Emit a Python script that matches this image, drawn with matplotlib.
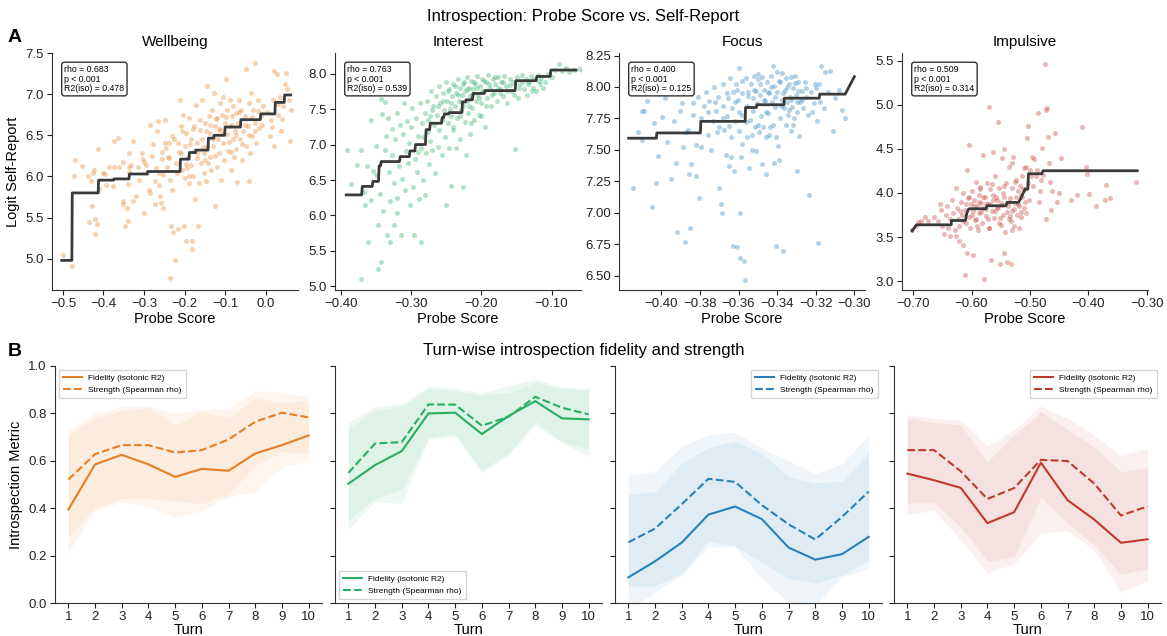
import matplotlib
matplotlib.use("Agg")
import matplotlib.pyplot as plt
import numpy as np

plt.rcParams['font.family'] = ['Liberation Sans', 'DejaVu Sans']

# ---- panel A: probe score vs. logit self-report ----
well_x = [-0.50, -0.478, -0.471, -0.473, -0.452, -0.438, -0.430, -0.426, -0.424, -0.414, -0.436, -0.422, -0.416,
          -0.422, -0.428, -0.410, -0.401, -0.395, -0.393, -0.387, -0.377, -0.373, -0.373, -0.365, -0.361, -0.352,
          -0.351, -0.351, -0.346, -0.342, -0.340, -0.338, -0.336, -0.336, -0.332, -0.328, -0.326, -0.340, -0.320,
          -0.316, -0.312, -0.305, -0.302, -0.300, -0.296, -0.292, -0.288, -0.286, -0.284, -0.280, -0.278, -0.274,
          -0.272, -0.268, -0.266, -0.264, -0.262, -0.260, -0.258, -0.256, -0.252, -0.252, -0.248, -0.248, -0.244,
          -0.240, -0.239, -0.236, -0.234, -0.232, -0.231, -0.228, -0.224, -0.235, -0.220, -0.218, -0.216, -0.216,
          -0.212, -0.209, -0.208, -0.205, -0.204, -0.201, -0.200, -0.198, -0.196, -0.196, -0.193, -0.192, -0.190,
          -0.188, -0.185, -0.184, -0.182, -0.181, -0.180, -0.177, -0.176, -0.174, -0.172, -0.169, -0.168, -0.166,
          -0.164, -0.161, -0.160, -0.158, -0.156, -0.153, -0.152, -0.149, -0.148, -0.145, -0.144, -0.142, -0.140,
          -0.137, -0.136, -0.134, -0.132, -0.129, -0.128, -0.126, -0.124, -0.121, -0.120, -0.118, -0.116, -0.113,
          -0.112, -0.110, -0.108, -0.105, -0.104, -0.102, -0.100, -0.097, -0.096, -0.094, -0.092, -0.089, -0.088,
          -0.086, -0.084, -0.081, -0.080, -0.078, -0.076, -0.073, -0.072, -0.070, -0.068, -0.065, -0.064, -0.060,
          -0.057, -0.056, -0.052, -0.049, -0.048, -0.044, -0.041, -0.040, -0.038, -0.036, -0.033, -0.030, -0.027,
          -0.025, -0.023, -0.019, -0.015, -0.011, -0.007, 0.010, 0.014, 0.018, 0.022, 0.022, 0.027, 0.031, 0.035,
          0.039, 0.043, 0.047, 0.051, 0.054, 0.057, 0.060, 0.062,
          -0.245, -0.238, -0.226, -0.214, -0.206, -0.197, -0.186, -0.178, -0.170, -0.162, -0.154, -0.146, -0.138,
          -0.130, -0.122, -0.114, -0.106, -0.098, -0.090, -0.082, -0.074, -0.066, -0.058, -0.050, -0.042, -0.034,
          -0.026, -0.018, -0.010, 0.004, 0.016, 0.030, -0.300, -0.270, -0.255, -0.190, -0.150, -0.125, -0.085, 0.040]
well_y = [5.05, 4.91, 6.20, 6.00, 6.13, 6.00, 5.94, 6.04, 6.08, 6.33, 5.45, 5.48, 5.42, 5.30, 5.64, 5.85, 6.04, 6.03,
          5.90, 6.12, 5.88, 6.12, 6.43, 6.47, 6.12, 5.70, 6.18, 5.66, 5.40, 5.62, 5.91, 6.06, 6.12, 6.29, 6.14, 6.43,
          5.70, 5.46, 5.76, 6.12, 5.96, 6.28, 6.21, 5.56, 6.14, 6.04, 5.84, 6.63, 5.80, 6.25, 6.39, 5.66, 5.94, 6.55,
          6.67, 6.04, 5.90, 5.76, 5.68, 6.21, 6.02, 5.62, 6.41, 6.69, 6.12, 6.24, 6.41, 5.96, 5.40, 5.84, 6.49, 5.32,
          4.99, 4.76, 6.16, 6.04, 6.41, 5.36, 6.93, 6.61, 6.29, 6.08, 6.75, 5.40, 5.98, 6.37, 6.53, 5.21, 6.10, 6.24,
          5.92, 6.71, 6.45, 6.14, 5.21, 5.12, 6.00, 6.61, 6.31, 5.72, 6.87, 6.41, 6.22, 5.40, 5.92, 6.57, 6.16, 6.93,
          6.45, 6.04, 6.29, 6.65, 5.94, 6.37, 7.10, 6.16, 6.73, 6.53, 6.24, 6.08, 6.81, 6.37, 7.01, 6.61, 5.64, 6.12,
          6.71, 6.45, 6.29, 6.89, 6.57, 5.96, 6.75, 6.41, 6.97, 6.20, 6.65, 7.18, 6.51, 6.81, 6.31, 6.61, 6.93, 6.08,
          6.73, 6.45, 6.85, 6.24, 6.55, 6.77, 6.33, 5.93, 6.65, 6.93, 6.45, 6.81, 6.20, 6.55, 6.73, 7.30, 6.37, 6.61,
          6.89, 5.94, 6.29, 7.01, 6.49, 6.81, 7.38, 6.65, 6.41, 6.93, 6.59, 6.73, 6.85, 6.49, 6.69, 6.93, 6.37, 7.28,
          7.24, 6.75, 6.97, 6.55, 6.85, 7.12, 7.26, 7.06, 6.93, 6.43, 6.81,
          6.35, 6.22, 6.46, 6.30, 6.55, 6.15, 6.40, 6.58, 6.28, 6.68, 6.36, 6.55, 6.62, 6.45, 6.70, 6.58, 6.52, 6.72,
          6.42, 6.62, 6.50, 6.78, 6.40, 6.62, 6.50, 6.72, 6.55, 6.80, 6.62, 6.78, 6.60, 6.88, 6.18, 6.10, 6.30, 6.00,
          6.20, 6.25, 6.30, 6.70]

int_x = [-0.392, -0.386, -0.377, -0.372, -0.372, -0.368, -0.366, -0.363, -0.362, -0.357, -0.355, -0.358, -0.350,
         -0.350, -0.348, -0.347, -0.345, -0.344, -0.343, -0.342, -0.340, -0.338, -0.337, -0.336, -0.335, -0.334,
         -0.332, -0.330, -0.330, -0.328, -0.327, -0.325, -0.325, -0.323, -0.321, -0.320, -0.320, -0.318, -0.316,
         -0.315, -0.313, -0.312, -0.310, -0.309, -0.307, -0.306, -0.305, -0.303, -0.302, -0.300, -0.299, -0.298,
         -0.296, -0.295, -0.294, -0.292, -0.290, -0.289, -0.288, -0.287, -0.286, -0.285, -0.283, -0.281, -0.280,
         -0.279, -0.278, -0.277, -0.275, -0.274, -0.273, -0.272, -0.270, -0.269, -0.268, -0.266, -0.265, -0.264,
         -0.262, -0.261, -0.260, -0.259, -0.257, -0.256, -0.255, -0.254, -0.252, -0.251, -0.250, -0.249, -0.248,
         -0.247, -0.246, -0.245, -0.244, -0.243, -0.242, -0.241, -0.240, -0.238, -0.237, -0.236, -0.235, -0.233,
         -0.232, -0.231, -0.230, -0.229, -0.228, -0.227, -0.226, -0.225, -0.224, -0.223, -0.222, -0.221, -0.220,
         -0.219, -0.218, -0.217, -0.216, -0.215, -0.213, -0.212, -0.210, -0.209, -0.208, -0.206, -0.205, -0.204,
         -0.202, -0.200, -0.199, -0.197, -0.195, -0.194, -0.192, -0.190, -0.188, -0.186, -0.184, -0.182, -0.180,
         -0.178, -0.176, -0.174, -0.172, -0.170, -0.168, -0.165, -0.163, -0.160, -0.157, -0.155, -0.152, -0.150,
         -0.148, -0.145, -0.142, -0.140, -0.137, -0.135, -0.132, -0.130, -0.127, -0.125, -0.122, -0.120, -0.117,
         -0.115, -0.110, -0.105, -0.100, -0.095, -0.090, -0.085, -0.080, -0.075, -0.068, -0.060, -0.055,
         -0.262, -0.255, -0.248, -0.243, -0.238, -0.234, -0.229, -0.226, -0.221, -0.218, -0.214, -0.211, -0.207,
         -0.203, -0.199, -0.196, -0.193, -0.189, -0.185, -0.181, -0.177, -0.173, -0.169, -0.164, -0.159, -0.154,
         -0.147, -0.141, -0.134, -0.128, -0.118, -0.112, -0.270, -0.276, -0.284, -0.290, -0.241, -0.230, -0.215, -0.200]
int_y = [6.92, 6.44, 6.71, 6.93, 5.10, 6.33, 6.15, 6.70, 5.62, 6.22, 6.63, 7.35, 6.98, 6.57, 5.24, 5.87, 6.30, 5.34,
         7.64, 7.43, 6.07, 7.60, 6.92, 7.12, 5.72, 7.38, 6.62, 6.20, 5.62, 7.22, 6.85, 5.86, 6.46, 7.08, 6.03, 7.45,
         6.24, 6.70, 7.27, 5.72, 6.52, 7.15, 7.59, 6.36, 6.91, 7.33, 6.74, 7.02, 6.15, 7.25, 7.52, 6.40, 5.72, 6.80,
         7.38, 6.62, 7.12, 6.23, 7.58, 5.63, 6.95, 7.30, 6.50, 7.45, 6.29, 6.88, 7.62, 7.18, 6.72, 7.40, 7.05, 7.75,
         6.93, 7.55, 7.28, 6.60, 7.68, 7.42, 6.97, 7.82, 7.20, 7.58, 6.85, 7.35, 7.72, 7.48, 7.10, 6.15, 7.88, 7.62,
         7.30, 6.95, 7.78, 7.50, 6.42, 7.40, 7.68, 7.20, 7.85, 7.55, 6.95, 7.72, 7.38, 7.92, 7.62, 7.08, 7.80, 7.48,
         7.70, 6.40, 7.55, 7.88, 7.32, 7.75, 6.85, 7.62, 7.95, 7.45, 7.80, 7.15, 7.68, 7.90, 7.52, 7.78, 7.35, 7.85,
         7.62, 7.96, 7.70, 7.42, 7.82, 7.58, 7.92, 7.75, 7.25, 7.88, 7.66, 7.98, 7.80, 7.55, 7.92, 7.72, 7.85, 7.62,
         7.95, 7.78, 7.88, 7.68, 7.96, 7.82, 7.58, 7.92, 7.75, 7.88, 6.94, 7.95, 7.65, 7.85, 7.98, 7.78, 7.92, 7.70,
         7.88, 7.96, 7.80, 7.92, 7.75, 7.98, 7.85, 7.94, 7.88, 8.00, 7.95, 8.05, 8.13, 8.04, 8.08, 8.02, 8.05, 8.06,
         8.04,
         7.55, 7.62, 7.75, 7.58, 7.82, 7.70, 7.60, 7.85, 7.78, 7.55, 7.70, 7.88, 7.80, 7.65, 7.75, 7.90, 7.55, 7.85,
         7.70, 7.95, 7.80, 7.72, 7.88, 7.76, 7.84, 7.70, 7.80, 7.90, 7.85, 7.75, 7.90, 7.80, 7.48, 7.35, 7.10, 6.90,
         7.25, 7.40, 7.30, 7.40]

foc_x = [-0.4146, -0.412, -0.4103, -0.409, -0.4074, -0.410, -0.4048, -0.404, -0.4026, -0.402, -0.3995, -0.398,
         -0.397, -0.3949, -0.3937, -0.3923, -0.392, -0.3906, -0.3892, -0.3888, -0.388, -0.3871, -0.3863, -0.3858,
         -0.385, -0.3846, -0.3837, -0.3834, -0.3823, -0.3820, -0.3811, -0.3803, -0.3794, -0.3794, -0.3777, -0.3768,
         -0.376, -0.3751, -0.3743, -0.3734, -0.3726, -0.3717, -0.3714, -0.3708, -0.3703, -0.3691, -0.3686, -0.3683,
         -0.3679, -0.3674, -0.3666, -0.3662, -0.3657, -0.3652, -0.3648, -0.3645, -0.364, -0.3635, -0.3631, -0.3628,
         -0.3623, -0.3619, -0.3614, -0.3611, -0.3605, -0.360, -0.3597, -0.3593, -0.3593, -0.3588, -0.3583, -0.3580,
         -0.3571, -0.3566, -0.3563, -0.3559, -0.3554, -0.3549, -0.3545, -0.3542, -0.3537, -0.3532, -0.3528, -0.3525,
         -0.352, -0.3515, -0.3511, -0.3508, -0.3503, -0.3497, -0.3494, -0.3491, -0.3485, -0.3480, -0.3477, -0.3473,
         -0.3468, -0.3463, -0.3460, -0.3456, -0.3451, -0.3446, -0.3443, -0.3437, -0.3434, -0.3429, -0.3422, -0.3417,
         -0.3417, -0.3412, -0.3408, -0.3405, -0.340, -0.3395, -0.3391, -0.3388, -0.3383, -0.3377, -0.3374, -0.3370,
         -0.3365, -0.336, -0.3357, -0.3352, -0.3348, -0.3343, -0.334, -0.3334, -0.3331, -0.3326, -0.3322, -0.3317,
         -0.3314, -0.3309, -0.3305, -0.330, -0.3297, -0.3292, -0.3288, -0.3283, -0.3274, -0.3266, -0.3257, -0.3250,
         -0.324, -0.3233, -0.3223, -0.3211, -0.3202, -0.3199, -0.3194, -0.3189, -0.3182, -0.3172, -0.316, -0.3151,
         -0.3137, -0.3125, -0.3113, -0.310, -0.3079, -0.3065, -0.3051,
         -0.366, -0.362, -0.358, -0.355, -0.352, -0.349, -0.347, -0.345, -0.343, -0.341, -0.339, -0.337, -0.335,
         -0.333, -0.331, -0.329, -0.327, -0.325, -0.360, -0.356, -0.353, -0.350, -0.346, -0.342, -0.338, -0.334,
         -0.330, -0.368, -0.372, -0.376, -0.364, -0.358, -0.344, -0.332, -0.322, -0.318, -0.340, -0.350, -0.361, -0.370]
foc_y = [7.20, 7.64, 7.81, 7.81, 7.89, 7.58, 7.05, 7.71, 7.24, 7.45, 7.76, 7.91, 7.56, 7.27, 7.73, 7.40, 6.85, 7.81,
         7.87, 7.52, 6.77, 7.64, 7.66, 7.31, 6.88, 7.39, 7.78, 7.87, 7.54, 7.29, 7.92, 7.12, 7.75, 7.52, 7.85, 7.96,
         7.62, 7.89, 7.50, 7.73, 8.00, 7.81, 7.64, 7.92, 7.20, 7.07, 7.00, 7.85, 8.02, 7.66, 7.46, 7.77, 7.91, 7.37,
         7.69, 8.07, 7.44, 7.83, 7.96, 6.74, 7.33, 7.73, 8.02, 6.73, 7.90, 7.65, 8.15, 7.00, 6.64, 7.44, 7.78, 7.95,
         6.62, 6.47, 8.07, 7.85, 7.60, 7.96, 7.36, 7.74, 8.02, 7.50, 7.91, 7.81, 8.09, 7.68, 7.97, 7.49, 7.87, 8.06,
         7.64, 7.94, 7.77, 8.08, 7.39, 7.68, 7.98, 7.89, 7.31, 7.60, 8.04, 7.79, 7.95, 7.68, 8.09, 7.88, 8.17, 7.40,
         8.01, 7.84, 7.60, 6.74, 7.96, 7.53, 7.42, 8.04, 7.75, 7.90, 8.11, 6.70, 7.83, 7.98, 7.70, 8.07, 7.88, 7.78,
         8.02, 7.92, 7.65, 8.08, 7.84, 7.99, 7.75, 8.09, 7.94, 7.33, 7.80, 8.04, 7.61, 7.88, 7.97, 7.83, 8.04, 7.92,
         7.78, 7.14, 7.96, 7.87, 8.02, 7.99, 7.73, 6.76, 8.02, 8.17, 7.83, 8.12, 7.96, 8.13, 7.65, 7.91, 7.98, 7.82,
         7.75,
         7.95, 7.88, 8.05, 7.93, 7.98, 8.02, 7.90, 7.96, 8.00, 7.92, 8.05, 7.95, 8.00, 7.90, 8.03, 7.97, 7.90, 7.99,
         7.80, 7.72, 7.62, 7.70, 7.80, 7.70, 7.85, 7.82, 7.88, 7.75, 7.88, 7.80, 7.60, 7.55, 7.62, 7.70, 7.80, 7.88,
         8.12, 8.10, 7.98, 7.68]

imp_x = [-0.7017, -0.6955, -0.6915, -0.686, -0.680, -0.6745, -0.665, -0.6575, -0.6546, -0.652, -0.650, -0.6478,
         -0.6444, -0.642, -0.6404, -0.6376, -0.6364, -0.633, -0.632, -0.629, -0.6274, -0.6262, -0.625, -0.6234,
         -0.6217, -0.6206, -0.6177, -0.616, -0.6149, -0.6138, -0.612, -0.6104, -0.609, -0.6081, -0.607, -0.6064,
         -0.6047, -0.6035, -0.6024, -0.6007, -0.599, -0.5979, -0.5967, -0.595, -0.5933, -0.5922, -0.591, -0.5894,
         -0.5877, -0.5865, -0.5854, -0.5837, -0.582, -0.5809, -0.5797, -0.578, -0.5763, -0.575, -0.574, -0.5723,
         -0.5706, -0.5695, -0.5684, -0.5667, -0.565, -0.5638, -0.5627, -0.561, -0.5593, -0.5582, -0.557, -0.5553,
         -0.5536, -0.5525, -0.5513, -0.5496, -0.548, -0.5468, -0.5457, -0.544, -0.544, -0.5423, -0.5411, -0.540,
         -0.5383, -0.5366, -0.5355, -0.5343, -0.5326, -0.531, -0.530, -0.5287, -0.527, -0.5253, -0.5241, -0.523,
         -0.5213, -0.5196, -0.5184, -0.5173, -0.5156, -0.5139, -0.5128, -0.511, -0.5099, -0.5082, -0.507, -0.506,
         -0.5043, -0.5037, -0.5026, -0.5014, -0.5003, -0.4986, -0.4957, -0.4946, -0.4929, -0.490, -0.4872, -0.4855,
         -0.4844, -0.4833, -0.4816, -0.4799, -0.477, -0.4742, -0.473, -0.4719, -0.4702, -0.4685, -0.4674, -0.4657,
         -0.4645, -0.4617, -0.457, -0.4532, -0.4504, -0.4475, -0.4305, -0.4191, -0.4106, -0.4038, -0.402, -0.3993,
         -0.3868, -0.372, -0.3698, -0.3624, -0.3181, -0.530,
         -0.600, -0.596, -0.592, -0.588, -0.584, -0.580, -0.576, -0.572, -0.568, -0.564, -0.560, -0.556, -0.552,
         -0.548, -0.544, -0.540, -0.536, -0.532, -0.528, -0.524, -0.520, -0.516, -0.512, -0.508, -0.590, -0.570,
         -0.550, -0.530, -0.610, -0.620, -0.615, -0.605, -0.585, -0.565, -0.545, -0.525, -0.515, -0.535, -0.555, -0.575]
imp_y = [3.58, 3.62, 3.67, 3.68, 3.73, 3.68, 3.73, 3.68, 3.87, 3.81, 3.62, 3.54, 3.75, 3.85, 3.60, 3.51, 3.70, 3.92,
         3.77, 3.58, 3.51, 4.06, 3.83, 3.71, 3.62, 3.45, 3.90, 3.75, 3.41, 4.00, 3.07, 3.81, 3.66, 4.26, 3.32, 3.94,
         3.73, 4.54, 3.60, 3.87, 4.02, 3.79, 3.30, 3.92, 3.69, 4.13, 3.85, 3.58, 3.98, 3.77, 4.07, 3.89, 3.66, 4.43,
         3.83, 3.02, 3.96, 3.74, 4.11, 3.87, 4.98, 3.60, 4.04, 3.24, 3.79, 4.46, 3.92, 3.72, 4.19, 3.96, 3.83, 4.80,
         3.66, 4.06, 3.20, 3.89, 4.40, 3.75, 4.00, 3.32, 4.50, 3.56, 4.11, 3.22, 3.85, 4.30, 3.70, 3.94, 3.19, 4.06,
         3.79, 4.41, 3.62, 3.89, 4.15, 3.75, 4.02, 3.60, 3.85, 4.08, 3.73, 3.96, 4.19, 3.83, 4.28, 4.04, 3.77, 4.30,
         4.62, 4.76, 4.11, 3.92, 4.26, 4.19, 4.41, 4.08, 4.39, 4.19, 4.26, 4.91, 3.90, 4.02, 4.15, 4.51, 4.20, 5.46,
         4.94, 3.71, 4.96, 4.64, 4.34, 4.13, 3.81, 4.02, 4.68, 3.90, 4.00, 4.40, 3.92, 3.98, 4.75, 4.30, 4.21, 3.99,
         3.85, 3.92, 4.09, 3.94, 4.12, 4.34,
         3.75, 3.85, 3.70, 3.90, 3.78, 3.95, 3.82, 3.70, 3.88, 3.98, 3.80, 3.92, 3.72, 3.86, 3.95, 3.78, 3.90, 3.68,
         3.82, 3.96, 3.88, 3.78, 4.05, 3.90, 3.62, 3.60, 3.64, 3.58, 3.88, 3.80, 3.68, 3.95, 4.05, 4.10, 4.08, 4.12,
         3.98, 3.74, 3.84, 3.88]

# isotonic fit vertices
iso_well_x = [-0.503, -0.478, -0.477, -0.413, -0.412, -0.375, -0.374, -0.337, -0.336, -0.292, -0.291, -0.211, -0.210,
              -0.189, -0.188, -0.173, -0.172, -0.142, -0.141, -0.128, -0.127, -0.101, -0.100, -0.062, -0.061, -0.013,
              -0.012, 0.023, 0.024, 0.046, 0.047, 0.062]
iso_well_y = [4.98, 4.98, 5.80, 5.80, 5.955, 5.955, 5.97, 5.97, 6.03, 6.03, 6.06, 6.06, 6.21, 6.21, 6.29, 6.29, 6.32,
              6.32, 6.465, 6.465, 6.50, 6.50, 6.60, 6.60, 6.69, 6.69, 6.76, 6.76, 6.90, 6.90, 6.99, 6.99]
iso_int_x = [-0.393, -0.371, -0.370, -0.356, -0.355, -0.347, -0.346, -0.344, -0.343, -0.317, -0.316, -0.303, -0.302,
             -0.295, -0.294, -0.280, -0.279, -0.274, -0.273, -0.257, -0.256, -0.254, -0.253, -0.247, -0.246, -0.228,
             -0.227, -0.223, -0.222, -0.213, -0.212, -0.196, -0.195, -0.152, -0.151, -0.122, -0.121, -0.102, -0.101,
             -0.065]
iso_int_y = [6.29, 6.29, 6.41, 6.41, 6.48, 6.48, 6.70, 6.70, 6.76, 6.76, 6.83, 6.83, 6.91, 6.91, 7.00, 7.00, 7.21, 7.21,
             7.30, 7.30, 7.38, 7.38, 7.43, 7.43, 7.45, 7.45, 7.60, 7.60, 7.63, 7.63, 7.72, 7.72, 7.76, 7.76, 7.90,
             7.90, 7.96, 7.96, 8.05, 8.05]
iso_foc_x = [-0.417, -0.4026, -0.4024, -0.3798, -0.3796, -0.3566, -0.3564, -0.3508, -0.3506, -0.3365, -0.3363,
             -0.3182, -0.3180, -0.3048, -0.300]
iso_foc_y = [7.593, 7.593, 7.635, 7.635, 7.727, 7.727, 7.837, 7.837, 7.859, 7.859, 7.911, 7.911, 7.943, 7.943, 8.082]
iso_imp_x = [-0.7017, -0.6943, -0.6347, -0.6345, -0.6104, -0.6081, -0.6047, -0.5752, -0.5735, -0.5411, -0.5394,
             -0.5196, -0.5156, -0.5116, -0.5082, -0.5037, -0.5026, -0.4799, -0.4776, -0.3164]
iso_imp_y = [3.571, 3.639, 3.639, 3.688, 3.688, 3.772, 3.821, 3.821, 3.855, 3.855, 3.893, 3.893, 3.942, 3.999, 4.044,
             4.044, 4.218, 4.218, 4.252, 4.252]

stats = ["rho = 0.683\np < 0.001\nR2(iso) = 0.478",
         "rho = 0.763\np < 0.001\nR2(iso) = 0.539",
         "rho = 0.400\np < 0.001\nR2(iso) = 0.125",
         "rho = 0.509\np < 0.001\nR2(iso) = 0.314"]
names = ["Wellbeing", "Interest", "Focus", "Impulsive"]
colors = ['#e67e22', '#27ae60', '#2980b9', '#c0392b']

# ---- panel B: turn-wise metrics ----
turns = np.arange(1, 11)
fid = [[0.394, 0.585, 0.625, 0.585, 0.532, 0.566, 0.558, 0.631, 0.666, 0.707],
       [0.503, 0.582, 0.641, 0.800, 0.803, 0.713, 0.789, 0.852, 0.779, 0.775],
       [0.108, 0.176, 0.255, 0.373, 0.407, 0.354, 0.234, 0.183, 0.206, 0.279],
       [0.546, 0.518, 0.486, 0.337, 0.383, 0.592, 0.434, 0.352, 0.254, 0.269]]
strength = [[0.521, 0.628, 0.666, 0.666, 0.635, 0.645, 0.690, 0.765, 0.803, 0.783],
            [0.549, 0.673, 0.679, 0.838, 0.837, 0.748, 0.786, 0.870, 0.824, 0.796],
            [0.256, 0.314, 0.417, 0.524, 0.511, 0.413, 0.332, 0.268, 0.363, 0.470],
            [0.645, 0.645, 0.556, 0.439, 0.485, 0.604, 0.599, 0.504, 0.369, 0.408]]
fid_lo = [[0.215, 0.39, 0.427, 0.405, 0.363, 0.39, 0.448, 0.47, 0.575, 0.60],
          [0.31, 0.427, 0.42, 0.69, 0.704, 0.55, 0.624, 0.75, 0.676, 0.62],
          [-0.03, 0.046, 0.117, 0.237, 0.237, 0.103, 0.004, -0.01, 0.11, 0.145],
          [0.373, 0.392, 0.265, 0.127, 0.166, 0.296, 0.303, 0.223, 0.046, 0.093]]
fid_hi = [[0.713, 0.78, 0.81, 0.825, 0.75, 0.81, 0.78, 0.865, 0.845, 0.855],
          [0.737, 0.814, 0.83, 0.906, 0.896, 0.875, 0.889, 0.93, 0.906, 0.90],
          [0.459, 0.469, 0.589, 0.656, 0.682, 0.631, 0.532, 0.507, 0.514, 0.634],
          [0.779, 0.762, 0.751, 0.596, 0.708, 0.807, 0.732, 0.659, 0.554, 0.570]]
str_lo = [[0.28, 0.40, 0.44, 0.44, 0.43, 0.42, 0.46, 0.58, 0.64, 0.63],
          [0.35, 0.44, 0.479, 0.70, 0.713, 0.56, 0.634, 0.768, 0.68, 0.648],
          [0.07, 0.073, 0.124, 0.262, 0.24, 0.173, 0.103, 0.082, 0.117, 0.18],
          [0.423, 0.423, 0.321, 0.176, 0.194, 0.444, 0.338, 0.244, 0.12, 0.146]]
str_hi = [[0.73, 0.80, 0.83, 0.83, 0.80, 0.815, 0.82, 0.895, 0.89, 0.87],
          [0.76, 0.828, 0.839, 0.915, 0.906, 0.887, 0.917, 0.945, 0.91, 0.906],
          [0.537, 0.555, 0.659, 0.71, 0.721, 0.652, 0.60, 0.546, 0.586, 0.71],
          [0.793, 0.779, 0.772, 0.662, 0.73, 0.831, 0.779, 0.708, 0.623, 0.652]]
legend_locs = ['upper left', 'lower left', 'upper right', 'upper right']

W, H = 1167, 636
fig = plt.figure(figsize=(W / 100, H / 100), dpi=100)


def px_axes(left, top, width, height):
    return fig.add_axes([left / W, 1 - (top + height) / H, width / W, height / H])


def style(ax):
    for s in ['top', 'right']:
        ax.spines[s].set_visible(False)
    for s in ['left', 'bottom']:
        ax.spines[s].set_color('#333333')
    ax.tick_params(labelsize=9.5, colors='#222222', length=3.5, pad=2.5)


scat = [(well_x, well_y, iso_well_x, iso_well_y), (int_x, int_y, iso_int_x, iso_int_y),
        (foc_x, foc_y, iso_foc_x, iso_foc_y), (imp_x, imp_y, iso_imp_x, iso_imp_y)]
top_lefts = [52, 335, 619, 902]
xlims = [(-0.527, 0.08), (-0.409, -0.058), (-0.422, -0.2945), (-0.719, -0.298)]
ylims = [(4.62, 7.5), (4.95, 8.29), (6.387, 8.27), (2.90, 5.587)]
xticks = [[-0.5, -0.4, -0.3, -0.2, -0.1, 0.0], [-0.4, -0.3, -0.2, -0.1],
          [-0.40, -0.38, -0.36, -0.34, -0.32, -0.30], [-0.7, -0.6, -0.5, -0.4, -0.3]]
xfmt = ['{:.1f}', '{:.2f}', '{:.2f}', '{:.2f}']
yticks = [np.arange(5.0, 7.51, 0.5), np.arange(5.0, 8.01, 0.5), np.arange(6.5, 8.26, 0.25), np.arange(3.0, 5.51, 0.5)]
yfmt = ['{:.1f}', '{:.1f}', '{:.2f}', '{:.1f}']

for i in range(4):
    ax = px_axes(top_lefts[i], 53, 246, 237)
    sx, sy, ix, iy = scat[i]
    ax.scatter(sx, sy, s=13, color=colors[i], alpha=0.35, linewidths=0)
    ax.plot(ix, iy, color='#3a3a3a', lw=2)
    ax.set_xlim(xlims[i])
    ax.set_ylim(ylims[i])
    ax.set_xticks(xticks[i])
    ax.set_xticklabels([xfmt[i].format(v).replace('-', '\u2212') for v in xticks[i]])
    ax.set_yticks(yticks[i])
    ax.set_yticklabels([yfmt[i].format(v) for v in yticks[i]])
    ax.set_title(names[i], fontsize=11, pad=5)
    ax.set_xlabel('Probe Score', fontsize=10.5, labelpad=1)
    if i == 0:
        ax.set_ylabel('Logit Self-Report', fontsize=10.5)
    ax.text(0.05, 0.95, stats[i], transform=ax.transAxes, fontsize=6.3, va='top', ha='left',
            linespacing=1.1,
            bbox=dict(boxstyle='round,pad=0.3', facecolor='white', edgecolor='#333333', linewidth=1))
    style(ax)

bot_lefts = [55, 335, 615, 894]
for i in range(4):
    ax = px_axes(bot_lefts[i], 366, 267, 237)
    ax.fill_between(turns, fid_lo[i], fid_hi[i], color=colors[i], alpha=0.075, linewidth=0)
    ax.fill_between(turns, str_lo[i], str_hi[i], color=colors[i], alpha=0.075, linewidth=0)
    ax.plot(turns, fid[i], color=colors[i], lw=1.5, label='Fidelity (isotonic R2)')
    ax.plot(turns, strength[i], color=colors[i], lw=1.5, ls='--', label='Strength (Spearman rho)')
    ax.set_xlim(0.5, 10.5)
    ax.set_ylim(0, 1)
    ax.set_xticks(turns)
    ax.set_yticks([0.0, 0.2, 0.4, 0.6, 0.8, 1.0])
    if i == 0:
        ax.set_ylabel('Introspection Metric', fontsize=10.5)
    else:
        ax.set_yticklabels([])
    ax.set_xlabel('Turn', fontsize=10.5, labelpad=0)
    ax.legend(loc=legend_locs[i], fontsize=6, frameon=True, fancybox=False, edgecolor='#cccccc',
              handlelength=2.2, borderpad=0.5)
    style(ax)

fig.text(0.5, 1 - 16 / H, 'Introspection: Probe Score vs. Self-Report', ha='center', va='center', fontsize=12)
fig.text(0.5, 1 - 351 / H, 'Turn-wise introspection fidelity and strength', ha='center', va='center', fontsize=12)
fig.text(8 / W, 1 - 38 / H, 'A', fontsize=14, fontweight='bold', ha='left', va='center')
fig.text(8 / W, 1 - 352 / H, 'B', fontsize=14, fontweight='bold', ha='left', va='center')

fig.savefig('out.png', dpi=100)
